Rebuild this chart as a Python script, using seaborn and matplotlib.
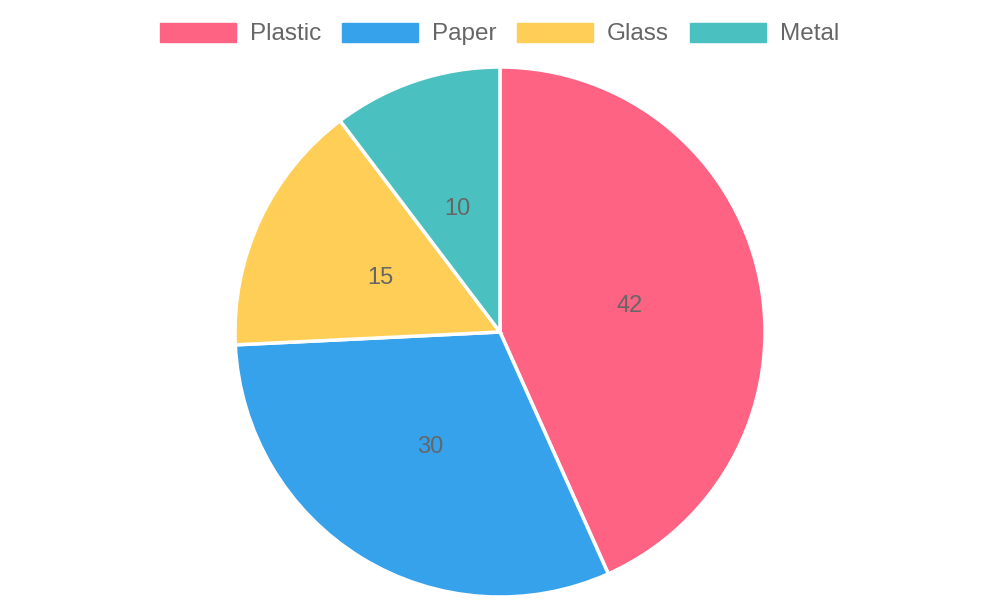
import matplotlib
matplotlib.use("Agg")
import matplotlib.pyplot as plt
import seaborn as sns
from matplotlib.patches import Patch

categories = ["Plastic", "Paper", "Glass", "Metal"]
values = [42, 30, 15, 10]
colors = ["#FF6384", "#36A2EB", "#FFCE56", "#4BC0C0"]

sns.set_theme(style="white")
plt.rcParams["font.family"] = ["Liberation Sans", "DejaVu Sans"]

fig = plt.figure(figsize=(10, 6), dpi=100)
ax = fig.add_axes([0.235, 0.005, 0.53, 0.8833])
total = sum(values)
wedges, texts, autotexts = ax.pie(
    values, colors=colors, startangle=90, counterclock=False,
    autopct=lambda p: f"{round(p * total / 100):d}", pctdistance=0.5,
    wedgeprops=dict(edgecolor="white", linewidth=2.5),
    textprops=dict(color="#666666", fontsize=17),
)
for t in autotexts:
    x, y = t.get_position()
    t.set_position((x, y - 0.008))
ax.set_xlim(-1.0, 1.0)
ax.set_ylim(-1.0, 1.0)
ax.set_aspect("equal")
ax.axis("off")

fs = 17.5
px = fs * 100 / 72
handles = [Patch(facecolor=c, edgecolor=c, label=l) for c, l in zip(colors, categories)]
leg = fig.legend(handles=handles, loc="center", bbox_to_anchor=(0.4995, 1 - 34 / 600),
                 ncol=4, frameon=False, fontsize=fs, handlelength=76 / px, handleheight=20 / px,
                 handletextpad=14 / px, columnspacing=21 / px)
for t in leg.get_texts():
    t.set_color("#666666")

fig.savefig("out.png", dpi=100)
